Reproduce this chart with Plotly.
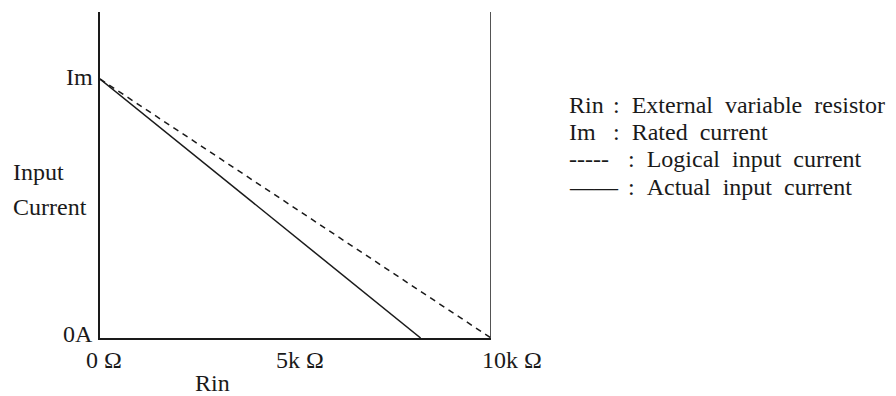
import plotly.graph_objects as go

# ---- data ----
rin_logical = [0, 10]          # kΩ
cur_logical = [1, 0]           # fraction of Im
rin_actual = [0, 8.2]          # kΩ
cur_actual = [1, 0]
x_tick_vals = [0, 5, 10]
x_tick_text = ["0 Ω", "5k Ω", "10k Ω"]
y_tick_vals = [0, 1]
y_tick_text = ["0A", "Im"]
legend_keys = ["Rin", "Im", "-----", "——"]
legend_desc = [": External variable resistor", ": Rated current",
               ": Logical input current", ": Actual input current"]

OFF = 8  # default page body margin
W, H = 888, 388
L, T = 100 - OFF, 12 - OFF
PLOT_R, PLOT_B = 491 - OFF, 338 - OFF
R, B = W - PLOT_R, H - PLOT_B
PW, PH = W - L - R, H - T - B
YMAX = 1.2587
FONT = "Liberation Serif, Times New Roman, serif"
INK = "#1a1a1a"


def px_x(px):
    """page pixel -> paper x"""
    return (px - OFF - L) / PW


def px_y(py):
    """page pixel -> paper y"""
    return (PLOT_B - (py - OFF)) / PH


fig = go.Figure()
fig.add_trace(go.Scatter(x=rin_logical, y=cur_logical, mode="lines",
                         line=dict(color=INK, width=1.5, dash="6px,5px"),
                         hoverinfo="skip"))
fig.add_trace(go.Scatter(x=rin_actual, y=cur_actual, mode="lines",
                         line=dict(color=INK, width=1.5), hoverinfo="skip"))

# right boundary line at 10 kΩ
fig.add_shape(type="line", xref="x", yref="paper", x0=10, x1=10, y0=0, y1=1,
              line=dict(color=INK, width=1.5))

ann = []
font = dict(family=FONT, size=24, color=INK)
# y tick labels
for v, t in zip(y_tick_vals, y_tick_text):
    ann.append(dict(x=0, y=v, xref="x", yref="y", text=t, showarrow=False,
                    xanchor="right", yanchor="middle", xshift=-5,
                    yshift=4 if v == 0 else 2, font=font))
# x tick labels
x_shift = {0: 4, 5: 4, 10: 21}
for v, t in zip(x_tick_vals, x_tick_text):
    ann.append(dict(x=v, y=0, xref="x", yref="y", text=t, showarrow=False,
                    xanchor="center", yanchor="middle", xshift=x_shift[v],
                    yshift=-22, font=font))
# axis titles
ann.append(dict(x=px_x(212), y=px_y(383), xref="paper", yref="paper", text="Rin",
                showarrow=False, xanchor="center", yanchor="middle", font=font))
ann.append(dict(x=px_x(11), y=px_y(172), xref="paper", yref="paper", text="Input",
                showarrow=False, xanchor="left", yanchor="middle", font=font))
ann.append(dict(x=px_x(11), y=px_y(207), xref="paper", yref="paper", text="Current",
                showarrow=False, xanchor="left", yanchor="middle", font=font))
# legend text
row_y = [105, 132, 159, 187]
desc_x = [611, 611, 626, 626]
for k, d, ry, dx in zip(legend_keys, legend_desc, row_y, desc_x):
    ann.append(dict(x=px_x(567), y=px_y(ry), xref="paper", yref="paper", text=k,
                    showarrow=False, xanchor="left", yanchor="middle", font=font))
    ann.append(dict(x=px_x(dx), y=px_y(ry), xref="paper", yref="paper",
                    text=d.replace(" ", "\u2002"),
                    showarrow=False, xanchor="left", yanchor="middle", font=font))

fig.update_layout(
    width=W, height=H,
    margin=dict(l=L, r=R, t=T, b=B),
    paper_bgcolor="white", plot_bgcolor="white",
    showlegend=False,
    annotations=ann,
    xaxis=dict(range=[0, 10], showgrid=False, zeroline=False, showticklabels=False,
               ticks="", showline=True, linecolor=INK, linewidth=1.5, fixedrange=True),
    yaxis=dict(range=[0, YMAX], showgrid=False, zeroline=False, showticklabels=False,
               ticks="", showline=True, linecolor=INK, linewidth=1.5, fixedrange=True),
)

fig.write_html("out.html")
